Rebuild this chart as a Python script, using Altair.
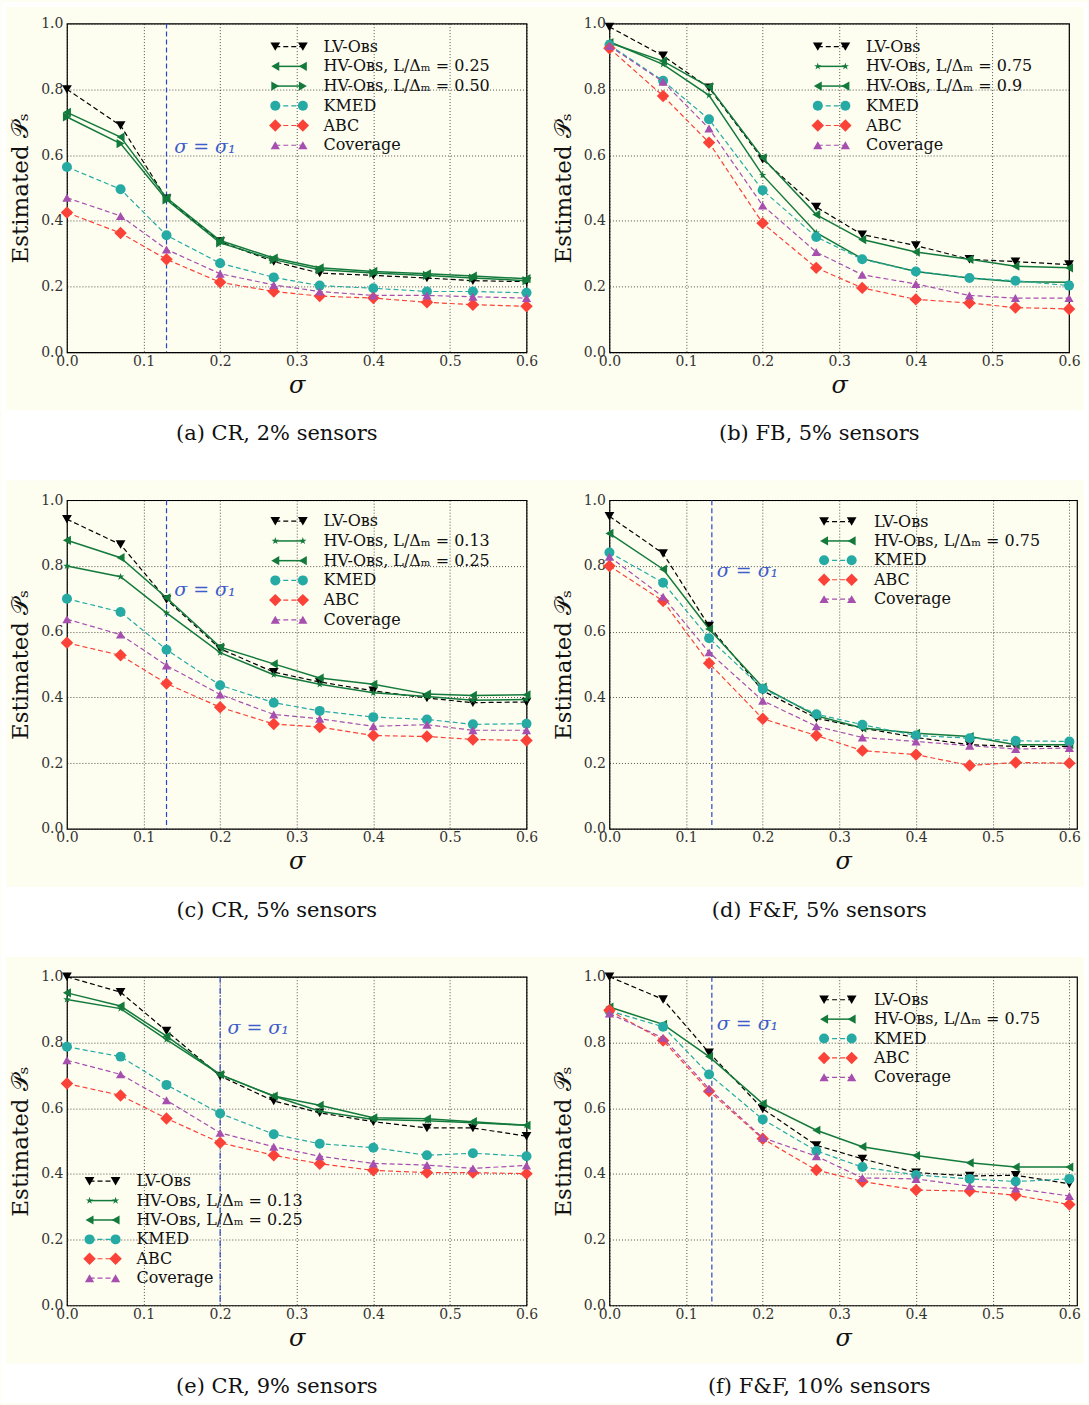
import altair as alt
import pandas as pd

# noise level on the x axis
SIGMA = [0.0, 0.07, 0.13, 0.2, 0.27, 0.33, 0.4, 0.47, 0.53, 0.6]
X_TICKS = [0.0, 0.1, 0.2, 0.3, 0.4, 0.5, 0.6]
Y_TICKS = [0.0, 0.2, 0.4, 0.6, 0.8, 1.0]

# (a) CR, 2% sensors
CR2_LV = [0.80, 0.69, 0.467, 0.337, 0.276, 0.241, 0.234, 0.226, 0.218, 0.215]
CR2_HV025 = [0.73, 0.655, 0.47, 0.34, 0.287, 0.257, 0.246, 0.239, 0.232, 0.224]
CR2_HV050 = [0.716, 0.635, 0.464, 0.333, 0.282, 0.251, 0.241, 0.234, 0.226, 0.218]
CR2_KMED = [0.564, 0.496, 0.356, 0.271, 0.228, 0.203, 0.195, 0.185, 0.185, 0.181]
CR2_ABC = [0.425, 0.363, 0.283, 0.213, 0.185, 0.171, 0.165, 0.152, 0.145, 0.14]
CR2_COV = [0.47, 0.415, 0.313, 0.239, 0.205, 0.185, 0.173, 0.173, 0.169, 0.165]

# (b) FB, 5% sensors
FB5_LV = [0.99, 0.902, 0.805, 0.587, 0.442, 0.358, 0.325, 0.283, 0.276, 0.267]
FB5_HV075 = [0.945, 0.876, 0.782, 0.539, 0.364, 0.285, 0.246, 0.226, 0.215, 0.213]
FB5_HV090 = [0.942, 0.886, 0.808, 0.592, 0.419, 0.343, 0.305, 0.283, 0.262, 0.257]
FB5_KMED = [0.935, 0.826, 0.709, 0.493, 0.351, 0.283, 0.246, 0.226, 0.218, 0.203]
FB5_ABC = [0.925, 0.78, 0.638, 0.393, 0.257, 0.196, 0.161, 0.15, 0.136, 0.132]
FB5_COV = [0.932, 0.823, 0.681, 0.447, 0.305, 0.236, 0.208, 0.173, 0.165, 0.165]

# (c) CR, 5% sensors
CR5_LV = [0.942, 0.865, 0.698, 0.548, 0.477, 0.447, 0.42, 0.398, 0.384, 0.386]
CR5_HV013 = [0.80, 0.767, 0.657, 0.536, 0.469, 0.44, 0.414, 0.403, 0.391, 0.394]
CR5_HV025 = [0.878, 0.825, 0.703, 0.553, 0.502, 0.459, 0.44, 0.41, 0.406, 0.408]
CR5_KMED = [0.70, 0.66, 0.545, 0.437, 0.384, 0.359, 0.34, 0.333, 0.318, 0.32]
CR5_ABC = [0.566, 0.528, 0.442, 0.37, 0.319, 0.31, 0.284, 0.281, 0.272, 0.269]
CR5_COV = [0.638, 0.591, 0.497, 0.409, 0.348, 0.335, 0.312, 0.317, 0.30, 0.30]

# (d) F&F, 5% sensors
FF5_LV = [0.951, 0.838, 0.617, 0.42, 0.337, 0.307, 0.278, 0.256, 0.251, 0.251]
FF5_HV075 = [0.899, 0.79, 0.608, 0.431, 0.344, 0.307, 0.291, 0.281, 0.256, 0.256]
FF5_KMED = [0.841, 0.749, 0.58, 0.426, 0.349, 0.317, 0.284, 0.276, 0.268, 0.266]
FF5_ABC = [0.80, 0.693, 0.504, 0.335, 0.284, 0.238, 0.226, 0.193, 0.202, 0.20]
FF5_COV = [0.828, 0.706, 0.537, 0.39, 0.312, 0.278, 0.266, 0.253, 0.243, 0.246]

# (e) CR, 9% sensors
CR9_LV = [1.0, 0.953, 0.835, 0.698, 0.622, 0.586, 0.559, 0.54, 0.54, 0.515]
CR9_HV013 = [0.931, 0.903, 0.809, 0.702, 0.637, 0.591, 0.566, 0.562, 0.556, 0.548]
CR9_HV025 = [0.951, 0.911, 0.819, 0.702, 0.637, 0.609, 0.571, 0.568, 0.559, 0.548]
CR9_KMED = [0.787, 0.757, 0.671, 0.584, 0.521, 0.492, 0.48, 0.457, 0.463, 0.454]
CR9_ABC = [0.675, 0.639, 0.569, 0.495, 0.457, 0.431, 0.411, 0.404, 0.404, 0.401]
CR9_COV = [0.746, 0.703, 0.624, 0.525, 0.483, 0.454, 0.432, 0.427, 0.417, 0.426]

# (f) F&F, 10% sensors
FF10_LV = [1.0, 0.931, 0.769, 0.598, 0.487, 0.446, 0.404, 0.394, 0.396, 0.37]
FF10_HV075 = [0.908, 0.855, 0.757, 0.614, 0.533, 0.483, 0.456, 0.434, 0.421, 0.421]
FF10_KMED = [0.896, 0.848, 0.703, 0.566, 0.47, 0.421, 0.397, 0.385, 0.377, 0.385]
FF10_ABC = [0.898, 0.806, 0.652, 0.507, 0.412, 0.377, 0.351, 0.348, 0.335, 0.307]
FF10_COV = [0.888, 0.814, 0.659, 0.51, 0.454, 0.388, 0.385, 0.363, 0.356, 0.333]

LV = "LV-Oʙꜱ"
HV = "HV-Oʙꜱ, L/Δₘ = "

CREAM = "#fdfdf0"
GREEN = "#137a3c"
TEAL = "#25aaa4"
RED = "#fa4238"
PURPLE = "#a64fae"
BLUE = "#2b45c4"
SERIF = "DejaVu Serif"

STAR = ("M0,-1L0.225,-0.309L0.951,-0.309L0.363,0.118L0.588,0.809L0,0.382"
        "L-0.588,0.809L-0.363,0.118L-0.951,-0.309L-0.225,-0.309Z")

DASH = [5, 3]
STYLES = {
    "lv": dict(color="black", shape="triangle-down", size=95, dash=DASH, width=1.2),
    "hvl": dict(color=GREEN, shape="triangle-left", size=85, dash=None, width=1.5),
    "hvr": dict(color=GREEN, shape="triangle-right", size=85, dash=None, width=1.5),
    "hvs": dict(color=GREEN, shape=STAR, size=60, dash=None, width=1.5),
    "kmed": dict(color=TEAL, shape="circle", size=100, dash=DASH, width=1.2),
    "abc": dict(color=RED, shape="diamond", size=155, dash=DASH, width=1.2),
    "cov": dict(color=PURPLE, shape="triangle-up", size=85, dash=DASH, width=1.2),
}

PANELS = [
    dict(caption="(a) CR, 2% sensors", xmax=0.6, sigma1=0.13, s1_dash=[5, 3],
         s1_pos=(0.14, 0.625), legend=(0.272, 0.308, 0.335, 0.930, 0.060),
         series=[("lv", LV, CR2_LV), ("hvl", HV + "0.25", CR2_HV025),
                 ("hvr", HV + "0.50", CR2_HV050), ("kmed", "KMED", CR2_KMED),
                 ("abc", "ABC", CR2_ABC), ("cov", "Coverage", CR2_COV)]),
    dict(caption="(b) FB, 5% sensors", xmax=0.6, sigma1=None,
         legend=(0.272, 0.308, 0.335, 0.930, 0.060),
         series=[("lv", LV, FB5_LV), ("hvs", HV + "0.75", FB5_HV075),
                 ("hvl", HV + "0.9", FB5_HV090), ("kmed", "KMED", FB5_KMED),
                 ("abc", "ABC", FB5_ABC), ("cov", "Coverage", FB5_COV)]),
    dict(caption="(c) CR, 5% sensors", xmax=0.6, sigma1=0.13, s1_dash=[5, 3],
         s1_pos=(0.14, 0.726), legend=(0.272, 0.308, 0.335, 0.936, 0.060),
         series=[("lv", LV, CR5_LV), ("hvs", HV + "0.13", CR5_HV013),
                 ("hvl", HV + "0.25", CR5_HV025), ("kmed", "KMED", CR5_KMED),
                 ("abc", "ABC", CR5_ABC), ("cov", "Coverage", CR5_COV)]),
    dict(caption="(d) F&F, 5% sensors", xmax=0.61, sigma1=0.1336, s1_dash=[5, 3],
         s1_pos=(0.14, 0.784), legend=(0.28, 0.316, 0.345, 0.935, 0.059),
         series=[("lv", LV, FF5_LV), ("hvl", HV + "0.75", FF5_HV075),
                 ("kmed", "KMED", FF5_KMED), ("abc", "ABC", FF5_ABC),
                 ("cov", "Coverage", FF5_COV)]),
    dict(caption="(e) CR, 9% sensors", xmax=0.6, sigma1=0.2, s1_dash=[6, 2, 1, 2],
         s1_pos=(0.2095, 0.845), legend=(0.0295, 0.0635, 0.0907, 0.378, 0.059),
         series=[("lv", LV, CR9_LV), ("hvs", HV + "0.13", CR9_HV013),
                 ("hvl", HV + "0.25", CR9_HV025), ("kmed", "KMED", CR9_KMED),
                 ("abc", "ABC", CR9_ABC), ("cov", "Coverage", CR9_COV)]),
    dict(caption="(f) F&F, 10% sensors", xmax=0.61, sigma1=0.1336, s1_dash=[5, 3],
         s1_pos=(0.14, 0.855), legend=(0.28, 0.316, 0.345, 0.930, 0.059),
         series=[("lv", LV, FF10_LV), ("hvl", HV + "0.75", FF10_HV075),
                 ("kmed", "KMED", FF10_KMED), ("abc", "ABC", FF10_ABC),
                 ("cov", "Coverage", FF10_COV)]),
]

H = 329          # plot height
W_BASE = 460     # plot width for the 0 - 0.6 range
COL_GAP = 83
ROW_GAP = 148


def encodings(xmax):
    x = alt.X("sigma:Q", scale=alt.Scale(domain=[0, xmax], nice=False, zero=False),
              axis=alt.Axis(values=X_TICKS, format=".1f", title="σ", labelPadding=2,
                            titleFontStyle="italic", titleFontSize=24, titlePadding=5))
    y = alt.Y("p:Q", scale=alt.Scale(domain=[0, 1], nice=False),
              axis=alt.Axis(values=Y_TICKS, format=".1f", title="Estimated 𝒫ₛ",
                            labelPadding=4, titleFontSize=23, titlePadding=8))
    return x, y


def line_kwargs(st):
    kw = dict(color=st["color"], strokeWidth=st["width"])
    if st["dash"]:
        kw["strokeDash"] = st["dash"]
    return kw


def point_mark(st):
    return alt.Chart().mark_point(filled=True, opacity=1, shape=st["shape"],
                                  size=st["size"], color=st["color"])


def strip(data, x0, x1, y0, y1, color="white"):
    return alt.Chart(data).mark_rect(color=color).encode(
        x=alt.value(x0), x2=alt.value(x1), y=alt.value(y0), y2=alt.value(y1))


def panel(spec, col, row):
    W = round(W_BASE * spec["xmax"] / 0.6)
    X, Y = encodings(spec["xmax"])
    one = pd.DataFrame({"k": [0]})
    layers = []

    # white margins and caption band around the cream sub-figure
    left, right = (-66, 479) if col == 0 else (-64, 479)
    bottom = H + 128 if row < 2 else H + 98
    layers.append(strip(one, left, right, H + 58, bottom))
    if row == 0:
        layers.append(strip(one, left, right, -22, -17))
    if col == 0:
        layers.append(strip(one, -66, -61, -22, bottom))
    else:
        layers.append(strip(one, 475, 479, -22, bottom))

    # sigma = sigma_1 marker line
    if spec["sigma1"] is not None:
        s1 = pd.DataFrame({"sigma": [spec["sigma1"]]})
        layers.append(alt.Chart(s1).mark_rule(color=BLUE, strokeWidth=1.2,
                                              strokeDash=spec["s1_dash"]).encode(x=X))
        sx, sy = spec["s1_pos"]
        lab = pd.DataFrame({"sigma": [sx], "p": [sy], "t": ["σ = σ₁"]})
        layers.append(alt.Chart(lab).mark_text(
            align="left", baseline="middle", font=SERIF, fontSize=19,
            fontStyle="italic", color="#3f5ccc").encode(x=X, y=Y, text="t:N"))

    # data series
    for key, label, values in spec["series"]:
        st = STYLES[key]
        df = pd.DataFrame({"sigma": SIGMA, "p": values})
        layers.append(alt.Chart(df).mark_line(**line_kwargs(st)).encode(x=X, y=Y))
        layers.append(point_mark(st).properties(data=df).encode(x=X, y=Y))

    # legend
    lx0, lx1, ltx, ly0, ldy = spec["legend"]
    for i, (key, label, _) in enumerate(spec["series"]):
        st = STYLES[key]
        ly = ly0 - i * ldy
        seg = pd.DataFrame({"sigma": [lx0], "sigma2": [lx1], "p": [ly]})
        layers.append(alt.Chart(seg).mark_rule(**line_kwargs(st)).encode(
            x=X, x2="sigma2:Q", y=Y))
        ends = pd.DataFrame({"sigma": [lx0, lx1], "p": [ly, ly]})
        layers.append(point_mark(st).properties(data=ends).encode(x=X, y=Y))
        txt = pd.DataFrame({"sigma": [ltx], "p": [ly], "t": [label]})
        layers.append(alt.Chart(txt).mark_text(
            align="left", baseline="middle", font=SERIF, fontSize=16,
            color="#111").encode(x=X, y=Y, text="t:N"))

    # caption under the sub-figure
    cap = pd.DataFrame({"t": [spec["caption"]]})
    layers.append(alt.Chart(cap).mark_text(
        align="center", baseline="middle", font=SERIF, fontSize=21,
        color="#111").encode(x=alt.value(210), y=alt.value(H + 82), text="t:N"))

    return alt.layer(*layers).properties(width=W, height=H)


panels = [panel(spec, i % 2, i // 2) for i, spec in enumerate(PANELS)]

chart = alt.concat(
    *panels, columns=2, bounds="flush", align="each",
    spacing=alt.RowColnumber(row=ROW_GAP, column=COL_GAP)
).properties(
    padding=0, background=CREAM
).configure_view(
    fill=CREAM, stroke="black", strokeWidth=1.2
).configure_axis(
    grid=True, gridColor="black", gridDash=[1, 2], gridWidth=0.8, gridOpacity=0.85,
    domain=False, ticks=False, labelFont=SERIF, labelFontSize=14, labelColor="#333",
    labelFlush=False, labelOverlap=False,
    titleFont=SERIF, titleFontWeight="normal", titleColor="#111"
)

chart.save("out.html", embed_options={"renderer": "svg", "actions": False})
